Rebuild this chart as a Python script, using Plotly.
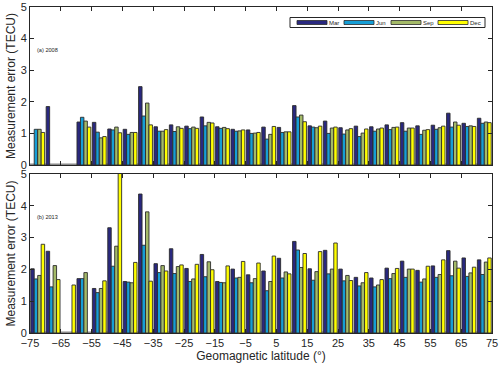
import plotly.graph_objects as go

# Breitengrad-Klassen (Mitte je 5 Grad)
lats = [-72.5, -67.5, -62.5, -57.5, -52.5, -47.5, -42.5, -37.5, -32.5, -27.5,
        -22.5, -17.5, -12.5, -7.5, -2.5, 2.5, 7.5, 12.5, 17.5, 22.5,
        27.5, 32.5, 37.5, 42.5, 47.5, 52.5, 57.5, 62.5, 67.5, 72.5]

# (a) 2008
mar08 = [None, 1.85, None, 1.36, 1.35, 1.14, 1.13, 2.48, 1.21, 1.27, 1.23, 1.52, 1.21, 1.13, 1.11,
         1.20, 1.19, 1.88, 1.24, 1.39, 1.18, 1.23, 1.21, 1.27, 1.34, 1.24, 1.26, 1.64, 1.32, 1.48]
jun08 = [1.13, None, None, 1.51, 1.04, 1.11, 0.97, 1.55, 1.07, 1.06, 1.15, 1.24, 1.16, 1.07, 1.00,
         0.82, 1.03, 1.52, 1.20, 1.00, 0.98, 0.90, 1.07, 1.12, 1.07, 0.97, 1.13, 1.20, 1.22, 1.32]
sep08 = [1.13, None, None, 1.39, 0.86, 1.20, 1.03, 1.96, 1.07, 1.21, 1.20, 1.35, 1.19, 1.08, 1.01,
         0.97, 1.05, 1.58, 1.18, 1.17, 1.11, 1.01, 1.14, 1.19, 1.17, 1.10, 1.18, 1.36, 1.24, 1.36]
dec08 = [1.03, None, None, 1.20, 0.90, 1.02, 1.03, 1.27, 1.12, 1.16, 1.16, 1.33, 1.15, 1.11, 1.03,
         1.22, 1.05, 1.37, 1.23, 1.20, 1.15, 1.14, 1.17, 1.20, 1.17, 1.12, 1.23, 1.26, 1.22, 1.34]

# (b) 2013
mar13 = [2.02, 2.57, None, 1.71, 1.40, 3.31, 1.62, 4.37, 2.18, 2.65, 2.03, 2.47, 1.62, 2.01, 1.83,
         1.95, 2.35, 2.88, 2.02, 2.60, 2.01, 1.75, 1.73, 2.04, 2.26, 1.97, 2.11, 2.59, 2.36, 2.30]
jun13 = [1.70, 1.45, None, 1.71, 1.27, 2.10, 1.60, 2.76, 1.90, 1.87, 1.62, 1.77, 1.59, 1.73, 1.58,
         1.33, 1.73, 2.61, 1.66, 1.86, 1.64, 1.48, 1.45, 1.71, 1.75, 1.60, 1.75, 1.80, 1.78, 1.84]
sep13 = [1.81, 2.12, None, 1.90, 1.40, 2.73, 1.58, 3.81, 2.12, 2.09, 1.70, 2.24, 1.58, 1.75, 1.71,
         1.62, 1.92, 2.06, 1.93, 2.01, 1.81, 1.58, 1.51, 1.87, 2.01, 1.70, 1.84, 2.26, 1.89, 2.23]
dec13 = [2.79, 1.68, 1.51, None, 1.64, 5.50, 2.22, 1.63, 1.95, 2.14, 2.16, 1.99, 2.11, 2.25, 2.20,
         2.42, 1.86, 2.50, 2.56, 2.83, 1.65, 1.90, 1.68, 2.03, 2.01, 2.10, 2.30, 2.04, 2.07, 2.36]

monate = ["Mar", "Jun", "Sep", "Dec"]
farben = ["#29287F", "#169ED6", "#A4BA68", "#FFFF00"]
xticks = [-75, -65, -55, -45, -35, -25, -15, -5, 5, 15, 25, 35, 45, 55, 65, 75]

font = "Liberation Sans, Arial, sans-serif"
textfarbe = "#262626"

fig = go.Figure()

for werte, farbe, name in zip([mar08, jun08, sep08, dec08], farben, monate):
    fig.add_trace(go.Bar(x=lats, y=werte, name=name, marker_color=farbe,
                         marker_line=dict(color="#2b2b2b", width=0.9),
                         xaxis="x", yaxis="y", offsetgroup=name, showlegend=False))

for werte, farbe, name in zip([mar13, jun13, sep13, dec13], farben, monate):
    fig.add_trace(go.Bar(x=lats, y=werte, name=name, marker_color=farbe,
                         marker_line=dict(color="#2b2b2b", width=0.9),
                         xaxis="x2", yaxis="y2", offsetgroup=name, showlegend=False))

achse = dict(showline=True, linecolor="#262626", linewidth=1, mirror="ticks",
             ticks="inside", ticklen=4, tickcolor="#262626", automargin=False,
             tickfont=dict(size=11, color=textfarbe, family=font), zeroline=False,
             showgrid=False)

fig.update_layout(
    width=500, height=369,
    margin=dict(l=30, r=8, t=7, b=36),
    plot_bgcolor="white", paper_bgcolor="white",
    barmode="group", bargap=0.1, bargroupgap=0,
    font=dict(family=font, color=textfarbe),
    xaxis=dict(achse, range=[-75, 75], tickvals=xticks, showticklabels=False,
               anchor="y", domain=[0, 1]),
    yaxis=dict(achse, range=[0, 5], dtick=1, domain=[0.5153, 1], anchor="x",
               title=dict(text="Measurement error (TECU)", standoff=2,
                          font=dict(size=12, color=textfarbe))),
    xaxis2=dict(achse, range=[-75, 75], tickvals=xticks, anchor="y2", domain=[0, 1],
                title=dict(text="Geomagnetic latitude (°)", standoff=2,
                           font=dict(size=12, color=textfarbe))),
    yaxis2=dict(achse, range=[0, 5], dtick=1, domain=[0, 0.4877], anchor="x2",
                title=dict(text="Measurement error (TECU)", standoff=2,
                           font=dict(size=12, color=textfarbe))),
)

# graue Basislinie
for xr, yr in [("x", "y"), ("x2", "y2")]:
    fig.add_shape(type="line", xref=xr, yref=yr, x0=-75, x1=75, y0=0, y1=0,
                  line=dict(color="#8a8a8a", width=3), layer="below")

# Panel-Beschriftungen
fig.add_annotation(text="(a) 2008", xref="x", yref="y", x=-73.3, y=3.65,
                   xanchor="left", showarrow=False, font=dict(size=5.6, color=textfarbe))
fig.add_annotation(text="(b) 2013", xref="x2", yref="y2", x=-73.3, y=3.65,
                   xanchor="left", showarrow=False, font=dict(size=5.6, color=textfarbe))

# Legende (eigener Kasten wie im Original), Pixel -> Domain des oberen Panels
def px_x(px):
    return (px - 30) / 462

def px_y(py):
    return 1 - (py - 7) / 158

fig.add_shape(type="rect", xref="x domain", yref="y domain",
              x0=px_x(290), x1=px_x(485), y0=px_y(27.5), y1=px_y(17.5),
              line=dict(color="#262626", width=1), fillcolor="white")
start = 297
for name, farbe in zip(monate, farben):
    fig.add_shape(type="rect", xref="x domain", yref="y domain",
                  x0=px_x(start), x1=px_x(start + 30), y0=px_y(24.5), y1=px_y(20.5),
                  line=dict(color="#2b2b2b", width=0.8), fillcolor=farbe)
    fig.add_annotation(text=name, xref="x domain", yref="y domain",
                       x=px_x(start + 30.5), y=px_y(22.5), xanchor="left", yanchor="middle",
                       showarrow=False, borderpad=0, font=dict(size=6, color=textfarbe))
    start += 47

# Seitenrand des Browsers entfernen, damit die Grafik bei (0,0) beginnt
fig.write_html("out.html", config={"displayModeBar": False},
               post_script="document.body.style.margin='0px';")
